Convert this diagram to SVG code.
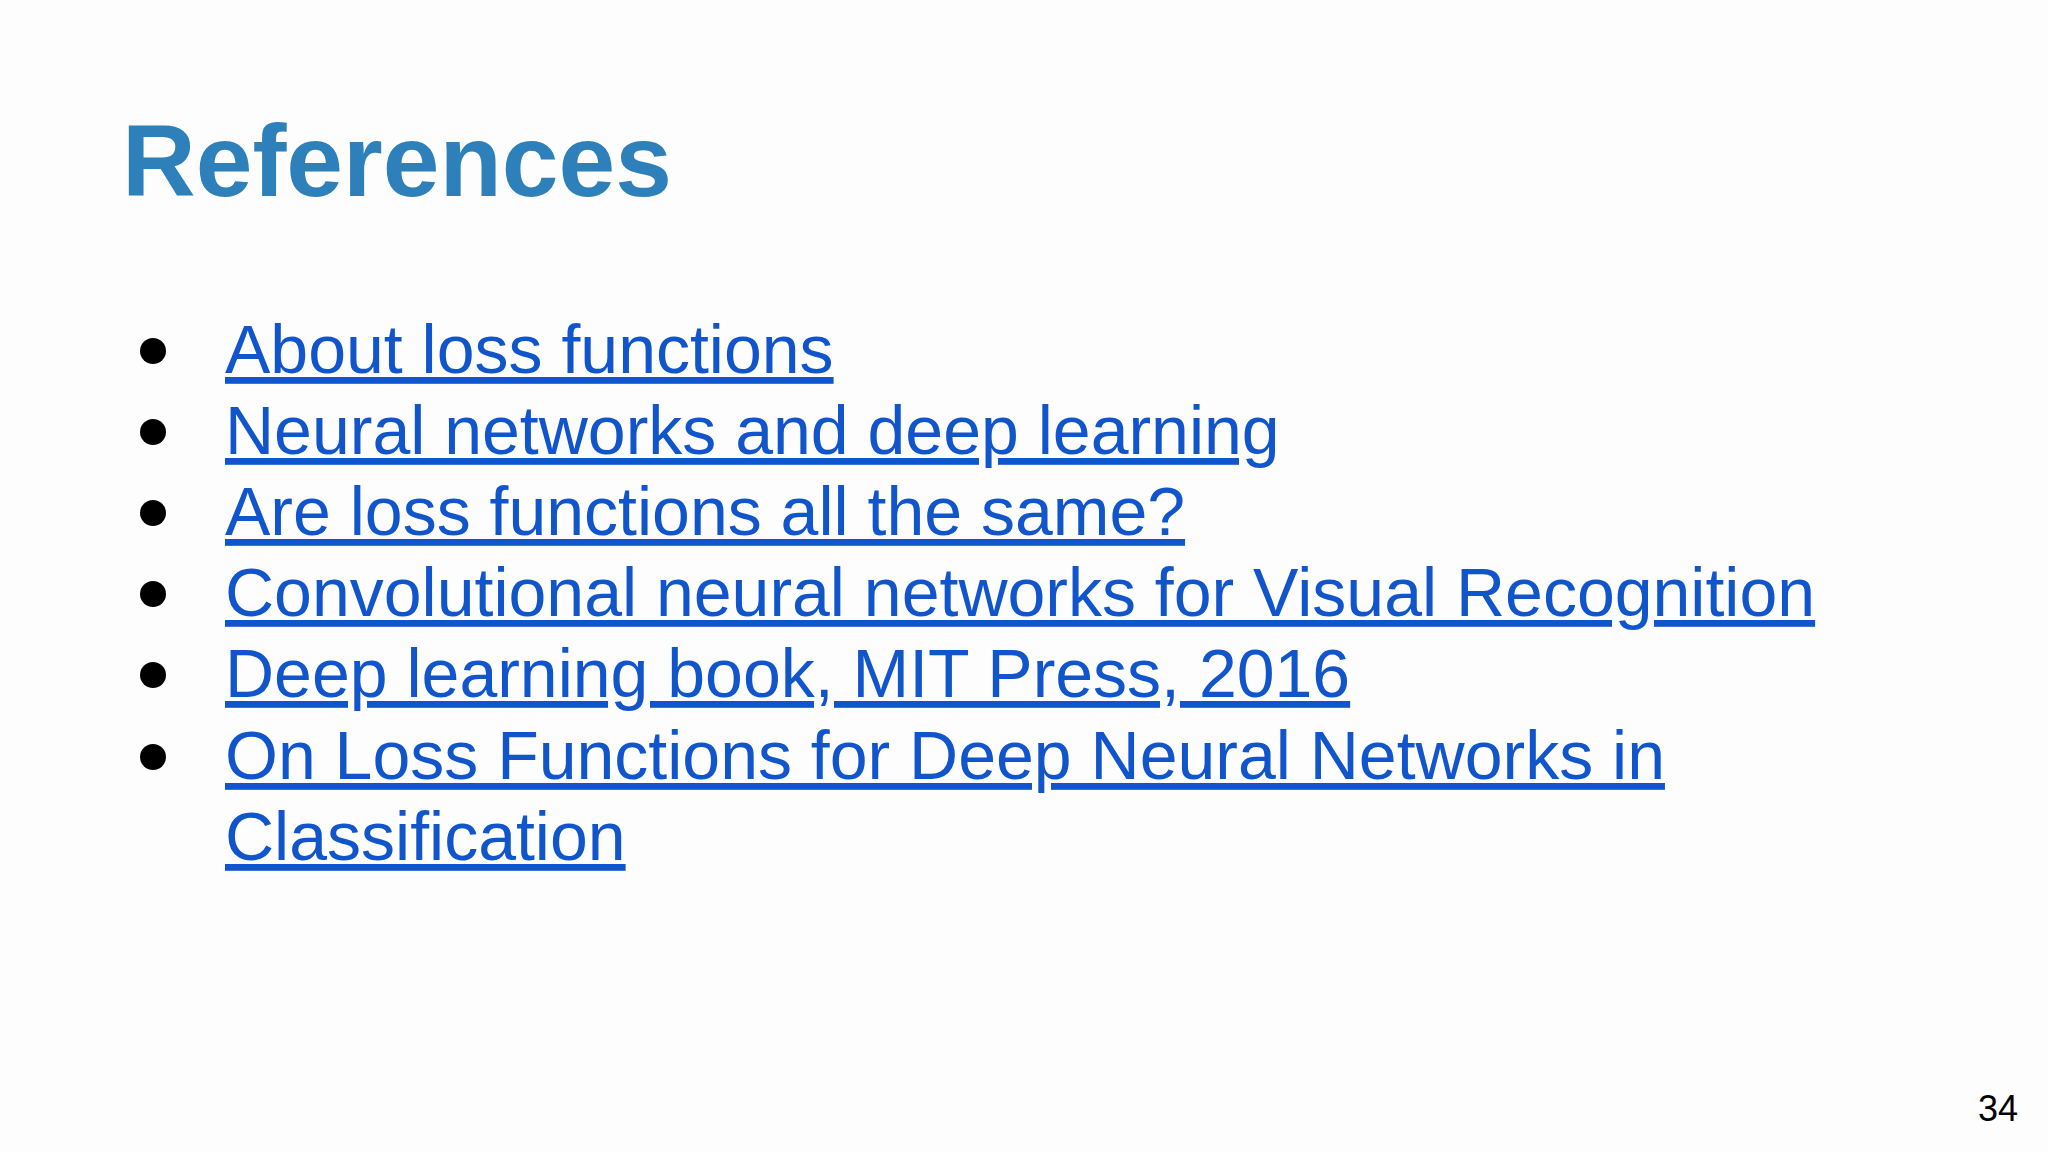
<svg xmlns="http://www.w3.org/2000/svg" width="2048" height="1152" viewBox="0 0 2048 1152">
<style>
.l{font-family:"Liberation Sans",Arial,sans-serif;font-size:68px;fill:#1155cc;text-decoration:underline}
.b{fill:#000}
</style>
<rect width="2048" height="1152" fill="#fdfdfd"/>
<text x="122" y="196" font-family="Liberation Sans,Arial,sans-serif" font-weight="bold" font-size="102" fill="#2d80b9">References</text>
<g id="bullets">
<circle class="b" cx="153" cy="351" r="13"/>
<circle class="b" cx="153" cy="432" r="13"/>
<circle class="b" cx="153" cy="513" r="13"/>
<circle class="b" cx="153" cy="594" r="13"/>
<circle class="b" cx="153" cy="675" r="13"/>
<circle class="b" cx="153" cy="757" r="13"/>
</g>
<g id="links">
<text class="l" x="225" y="373">About loss functions</text>
<text class="l" x="225" y="454">Neural networks and deep learning</text>
<text class="l" x="225" y="535">Are loss functions all the same?</text>
<text class="l" x="225" y="616">Convolutional neural networks for Visual Recognition</text>
<text class="l" x="225" y="697">Deep learning book, MIT Press, 2016</text>
<text class="l" x="225" y="779">On Loss Functions for Deep Neural Networks in</text>
<text class="l" x="225" y="860">Classification</text>
</g>
<text x="2018" y="1121" text-anchor="end" font-family="Liberation Sans,Arial,sans-serif" font-size="36" fill="#000">34</text>
</svg>
